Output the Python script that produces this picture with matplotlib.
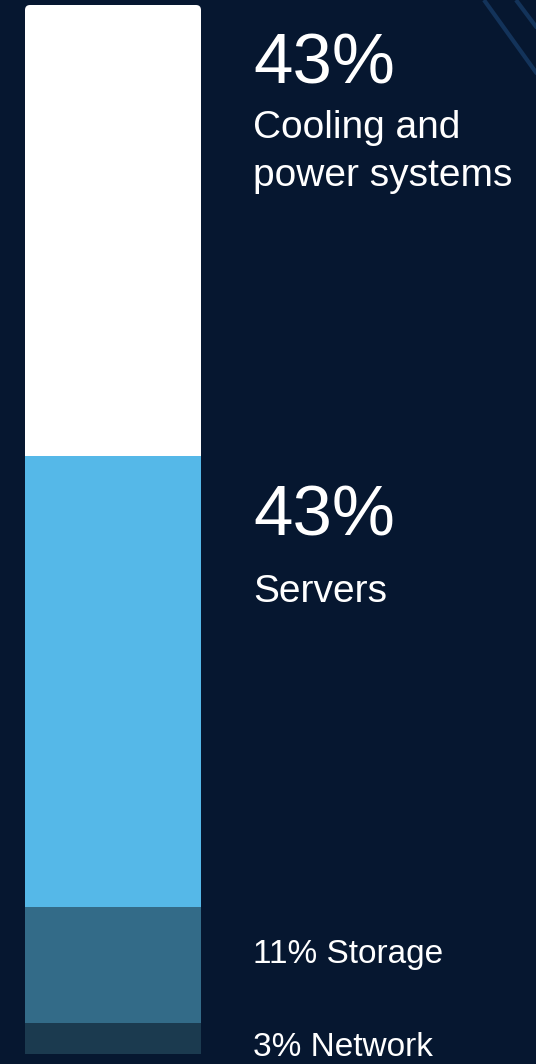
import matplotlib.pyplot as plt
from matplotlib.patches import FancyBboxPatch

# data, bottom to top
categories = ["Network", "Storage", "Servers", "Cooling and\npower systems"]
shares = [3, 11, 43, 43]
colors = ["#1b3a4f", "#336b88", "#55b8e8", "#ffffff"]

BG = "#061730"
W, H = 536, 1064

plt.rcParams['font.family'] = ['Liberation Sans', 'DejaVu Sans']

fig = plt.figure(figsize=(W / 100, H / 100), dpi=100, facecolor=BG)

# background axes in pixel coordinates, for decoration and labels
bg = fig.add_axes([0, 0, 1, 1])
bg.set_xlim(0, W)
bg.set_ylim(H, 0)
bg.axis('off')
bg.set_facecolor(BG)

# faint diagonal strokes in the top right corner
bg.plot([484, 540], [0, 78], color="#13335a", lw=3, solid_capstyle='butt')
bg.plot([516, 540], [0, 32], color="#13335a", lw=3, solid_capstyle='butt')

# the stacked bar
bar_left, bar_right, bar_top, bar_bottom = 25, 201, 5, 1054
ax = fig.add_axes([bar_left / W, (H - bar_bottom) / H,
                   (bar_right - bar_left) / W, (bar_bottom - bar_top) / H])
ax.set_xlim(-0.5, 0.5)
ax.set_ylim(0, sum(shares))
ax.axis('off')

# rounded top corners only
clip = FancyBboxPatch((bar_left / 100, -1), (bar_right - bar_left) / 100,
                      (H - bar_top) / 100 + 1,
                      boxstyle="round,pad=0,rounding_size=0.05",
                      transform=fig.dpi_scale_trans, facecolor='none',
                      edgecolor='none')
fig.add_artist(clip)

bottom = 0
for cat, val, col in zip(categories, shares, colors):
    bars = ax.bar(0, val, width=1.0, bottom=bottom, color=col, linewidth=0)
    for b in bars:
        b.set_clip_path(clip)
    bottom += val

# labels
tx = 253
bg.text(tx, 83, f"{shares[3]}%", color="white", fontsize=51, va='baseline')
bg.text(tx, 138, "Cooling and", color="white", fontsize=28, va='baseline')
bg.text(tx, 186, "power systems", color="white", fontsize=28, va='baseline')

bg.text(tx, 535, f"{shares[2]}%", color="white", fontsize=51, va='baseline')
bg.text(tx, 602, categories[2], color="white", fontsize=28, va='baseline')

bg.text(tx, 963, f"{shares[1]}% {categories[1]}", color="white", fontsize=24,
        va='baseline')
bg.text(tx, 1056, f"{shares[0]}% {categories[0]}", color="white", fontsize=24,
        va='baseline')

fig.savefig("out.png", dpi=100, facecolor=BG)
